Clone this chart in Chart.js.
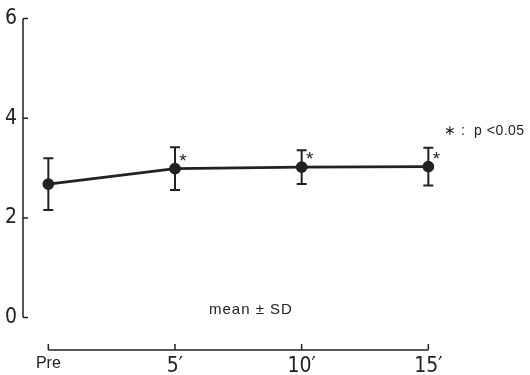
<!DOCTYPE html>
<html>
<head>
<meta charset="utf-8">
<script src="https://cdn.jsdelivr.net/npm/chart.js@4"></script>
<style>
  body { margin: 0; background: #fff; }
  #wrap { width: 530px; height: 375px; position: relative; }
</style>
</head>
<body>
<div id="wrap"><canvas id="chart"></canvas></div>
<script>
const timeLabels = ["Pre", "5\u2032", "10\u2032", "15\u2032"];
const meanValues = [2.68, 2.99, 3.02, 3.03];
const sdValues = [0.52, 0.43, 0.34, 0.38];
const significant = [false, true, true, true];
const yTicks = [0, 2, 4, 6];

const ink = "#222";
const narrow = "'Liberation Sans Narrow', 'DejaVu Sans Condensed', sans-serif";

// axes, error bars, asterisks and the two notes
const extras = {
  id: "extras",
  afterDatasetsDraw(chart) {
    const { ctx, scales: { x, y } } = chart;
    ctx.save();
    ctx.strokeStyle = ink;
    ctx.fillStyle = ink;

    // y axis with inward ticks, stops at 0
    ctx.lineWidth = 1.5;
    const ax = x.left;
    ctx.beginPath();
    ctx.moveTo(ax, y.getPixelForValue(yTicks[yTicks.length - 1]));
    ctx.lineTo(ax, y.getPixelForValue(0));
    yTicks.forEach(v => {
      const py = y.getPixelForValue(v);
      ctx.moveTo(ax, py);
      ctx.lineTo(ax + 5, py);
    });
    ctx.stroke();

    // detached x axis from first to last time point, ticks upward
    const by = y.bottom;
    ctx.beginPath();
    ctx.moveTo(x.getPixelForValue(0), by);
    ctx.lineTo(x.getPixelForValue(timeLabels.length - 1), by);
    timeLabels.forEach((_, i) => {
      const px = x.getPixelForValue(i);
      ctx.moveTo(px, by);
      ctx.lineTo(px, by - 6);
    });
    ctx.stroke();

    // error bars
    ctx.lineWidth = 2;
    meanValues.forEach((m, i) => {
      const px = x.getPixelForValue(i);
      const top = y.getPixelForValue(m + sdValues[i]);
      const bot = y.getPixelForValue(m - sdValues[i]);
      ctx.beginPath();
      ctx.moveTo(px, top);
      ctx.lineTo(px, bot);
      ctx.moveTo(px - 5, top);
      ctx.lineTo(px + 5, top);
      ctx.moveTo(px - 5, bot);
      ctx.lineTo(px + 5, bot);
      ctx.stroke();
    });

    // asterisks
    ctx.font = "19px 'Liberation Sans', sans-serif";
    ctx.textAlign = "center";
    ctx.textBaseline = "middle";
    meanValues.forEach((m, i) => {
      if (!significant[i]) return;
      ctx.fillText("*", x.getPixelForValue(i) + 8, y.getPixelForValue(m) - 7);
    });

    // notes
    ctx.textAlign = "left";
    ctx.letterSpacing = "0.5px";
    ctx.font = "14px 'Liberation Sans', sans-serif";
    ctx.fillText("\u2217 :  p <0.05", 444, 131);
    ctx.letterSpacing = "1px";
    ctx.font = "15px 'Liberation Sans', sans-serif";
    ctx.fillText("mean \u00b1 SD", 209, 310);
    ctx.restore();
  }
};

new Chart(document.getElementById("chart"), {
  type: "line",
  data: {
    datasets: [{
      data: meanValues.map((v, i) => ({ x: i, y: v })),
      borderColor: ink,
      borderWidth: 2.8,
      pointRadius: 4.5,
      pointBackgroundColor: ink,
      pointBorderColor: ink,
      tension: 0
    }]
  },
  options: {
    responsive: true,
    maintainAspectRatio: false,
    animation: false,
    layout: { padding: { top: 13, right: 13, left: 0, bottom: 0 } },
    plugins: { legend: { display: false }, tooltip: { enabled: false } },
    scales: {
      x: {
        type: "linear",
        min: -0.2,
        max: 3.7,
        grid: { display: false, drawTicks: false },
        border: { display: false },
        afterBuildTicks: s => { s.ticks = timeLabels.map((_, i) => ({ value: i })); },
        afterFit: s => { s.height = 25; },
        ticks: {
          autoSkip: false,
          maxRotation: 0,
          padding: 4,
          color: ink,
          callback: v => timeLabels[v],
          font: c => c.index === 0
            ? { family: "'Liberation Sans', sans-serif", size: 16 }
            : { family: narrow, size: 21 }
        }
      },
      y: {
        min: -0.65,
        max: 6,
        grid: { display: false, drawTicks: false },
        border: { display: false },
        afterBuildTicks: s => { s.ticks = yTicks.map(v => ({ value: v })); },
        afterFit: s => { s.width = 23; },
        ticks: {
          padding: 6,
          color: ink,
          font: { family: narrow, size: 21 }
        }
      }
    }
  },
  plugins: [extras]
});
</script>
</body>
</html>
